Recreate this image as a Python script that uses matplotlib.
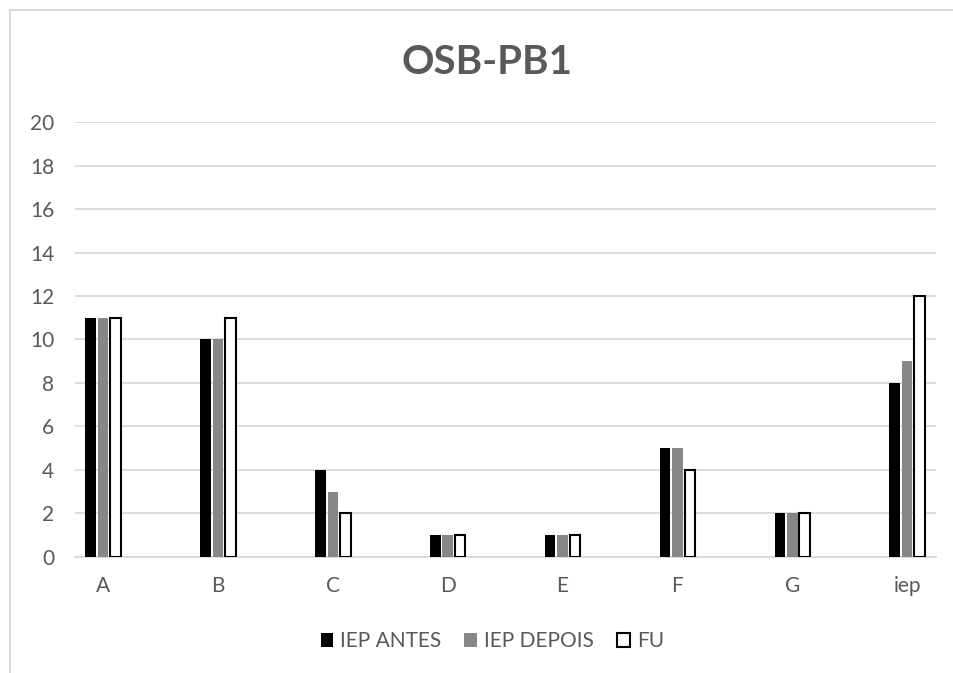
import matplotlib.pyplot as plt
import matplotlib.patches as mpatches
import numpy as np

categories = ["A", "B", "C", "D", "E", "F", "G", "iep"]
iep_antes = [11, 10, 4, 1, 1, 5, 2, 8]
iep_depois = [11, 10, 3, 1, 1, 5, 2, 9]
fu = [11, 11, 2, 1, 1, 4, 2, 12]

plt.rcParams['font.family'] = ['Lato', 'DejaVu Sans']
text_color = "#595959"
grid_color = "#d9d9d9"

fig = plt.figure(figsize=(9.54, 6.73), dpi=100)
ax = fig.add_axes([0.0786, 0.1724, 0.9024, 0.6463])

# chart-area border (cropped at right and bottom in the original)
border = mpatches.Rectangle((10 / 954, -0.1), 1.2, (673 - 10) / 673 + 0.1,
                            transform=fig.transFigure, fill=False,
                            edgecolor=grid_color, lw=1.5, zorder=0)
fig.patches.append(border)

x = np.arange(len(categories))
w = 0.092
pitch = 0.108
ax.bar(x - pitch, iep_antes, w, color="black", label="IEP ANTES", zorder=3)
ax.bar(x, iep_depois, w, color="#878787", label="IEP DEPOIS", zorder=3)
ax.bar(x + pitch, fu, w, color="white", edgecolor="black", lw=1.5,
       label="FU", zorder=3)

ax.set_xlim(-0.245, 7.25)
ax.set_ylim(0, 20)
ax.set_yticks(range(0, 21, 2))
ax.set_xticks(x)
ax.set_xticklabels(categories)
ax.yaxis.grid(True, color=grid_color, lw=1.3)
ax.set_axisbelow(True)
for side in ["top", "right", "left"]:
    ax.spines[side].set_visible(False)
ax.spines["bottom"].set_color(grid_color)
ax.spines["bottom"].set_linewidth(1.3)
ax.tick_params(axis="both", length=0, labelsize=15, colors=text_color)
ax.tick_params(axis="y", pad=15)
ax.tick_params(axis="x", pad=14)

fig.text(0.5105, 0.907, "OSB-PB1", ha="center", va="center",
         fontsize=29, fontweight="bold", color=text_color)

fig.legend(loc="center", bbox_to_anchor=(0.516, 0.047), ncol=3,
           frameon=False, fontsize=15, handlelength=0.6, handleheight=0.6,
           handletextpad=0.35, columnspacing=1.1, labelcolor=text_color)

fig.savefig("out.png", dpi=100)
